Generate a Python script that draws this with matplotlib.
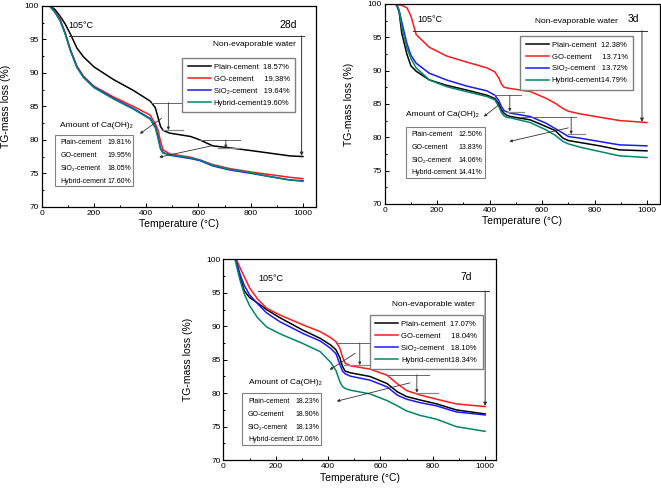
"""
TG curves of cement pastes (Plain / GO / SiO2 / Hybrid) at 28d, 3d and 7d.
"""

import matplotlib
matplotlib.use("Agg")
import matplotlib.pyplot as plt
from matplotlib.patches import Rectangle
from matplotlib.ticker import MultipleLocator

plt.rcParams["font.family"] = ["Liberation Sans", "DejaVu Sans"]

SERIES = ["Plain-cement", "GO-cement", "SiO₂-cement", "Hybrid-cement"]
COLORS = ["black", "#ff1a1a", "#1a1aff", "#00876a"]
# spaces to line up the numbers in the curve legend
LEG_PAD = ["  ", "     ", "   ", ""]

# ---- 28d ----
T28 = [30, 50, 70, 90, 110, 135, 160, 200, 275, 350, 415, 435, 445, 455, 465,
       490, 570, 605, 655, 720, 800, 875, 950, 1000]
plain28 = [100, 99.5, 98.5, 97.3, 95.8, 93.7, 92.4, 90.9, 89.0, 87.4, 85.8, 84.8,
           83.4, 82.0, 81.4, 81.0, 80.5, 80.0, 79.1, 78.8, 78.4, 78.0, 77.6, 77.5]
go28 = [100, 99.2, 98.1, 96.0, 93.5, 91.0, 89.5, 88.0, 86.4, 85.0, 83.7, 82.4,
        81.5, 79.8, 78.5, 77.9, 77.4, 77.0, 76.3, 75.7, 75.2, 74.8, 74.4, 74.2]
sio28 = [100, 99.1, 97.9, 95.9, 93.4, 90.9, 89.4, 87.9, 86.2, 84.7, 83.2, 82.0,
         80.6, 78.8, 78.1, 77.7, 77.2, 76.9, 76.1, 75.5, 75.0, 74.5, 74.0, 73.9]
hyb28 = [100, 99.1, 97.8, 95.8, 93.3, 90.8, 89.3, 87.8, 86.1, 84.6, 83.1, 81.8,
         80.3, 78.6, 78.0, 77.8, 77.3, 77.0, 76.2, 75.6, 75.1, 74.5, 74.0, 73.8]
water28 = [18.57, 19.38, 19.64, 19.60]
caoh28 = [19.81, 19.95, 18.05, 17.60]

# ---- 3d ----
T3 = [30, 45, 55, 65, 85, 100, 120, 170, 235, 310, 390, 420, 435, 445, 455, 465,
      480, 555, 615, 650, 680, 700, 745, 820, 895, 1000]
plain3 = [100, 99.9, 98.8, 95.6, 92.4, 90.7, 89.9, 88.6, 87.8, 87.1, 86.3, 85.8,
          85.0, 84.1, 83.6, 83.3, 83.1, 82.6, 81.6, 81.0, 79.85, 79.5, 79.2, 78.7,
          78.1, 77.95]
go3 = [100, 99.9, 99.85, 99.8, 99.4, 98.2, 95.4, 93.5, 92.2, 91.3, 90.4, 89.8,
       88.9, 88.0, 87.5, 87.4, 87.3, 86.85, 85.85, 85.1, 84.3, 83.9, 83.5, 83.0,
       82.5, 82.2]
sio3 = [100, 100, 99.0, 97.3, 94.0, 92.3, 91.1, 89.6, 88.6, 87.7, 86.95, 86.3,
        85.5, 84.6, 84.0, 83.8, 83.6, 83.1, 82.1, 81.3, 80.6, 80.1, 79.85, 79.35,
        78.85, 78.7]
hyb3 = [100, 100, 99.0, 96.6, 93.4, 91.8, 90.4, 88.6, 87.6, 86.85, 86.1, 85.6,
        84.6, 83.7, 83.2, 83.0, 82.9, 82.2, 81.1, 80.3, 79.35, 79.0, 78.5, 77.85,
        77.2, 76.95]
water3 = [12.38, 13.71, 13.72, 14.79]
caoh3 = [12.50, 13.83, 14.06, 14.41]

# ---- 7d ----
T7 = [45, 50, 65, 80, 100, 130, 165, 215, 305, 370, 410, 430, 445, 455, 465, 485,
      560, 625, 665, 700, 750, 815, 890, 1000]
plain7 = [100, 99.5, 97.1, 95.3, 94.3, 93.5, 92.5, 91.3, 89.4, 88.2, 87.2, 86.5,
          85.3, 84.0, 83.3, 83.05, 82.5, 81.45, 80.2, 79.5, 79.0, 78.4, 77.5, 76.9]
go7 = [100, 100, 98.6, 97.4, 95.75, 94.1, 92.7, 91.7, 90.2, 89.2, 88.3, 87.7,
       86.7, 85.4, 84.5, 84.1, 83.6, 82.7, 81.4, 80.4, 79.75, 79.1, 78.4, 78.0]
sio7 = [100, 99.6, 97.6, 96.1, 94.7, 93.4, 92.0, 90.7, 88.9, 87.8, 86.7, 85.9,
        84.3, 83.3, 82.9, 82.55, 81.95, 80.95, 79.7, 79.1, 78.6, 78.1, 77.2, 76.75]
hyb7 = [100, 99.0, 96.7, 94.8, 93.1, 91.3, 89.9, 88.9, 87.4, 86.2, 84.6, 83.4,
        81.7, 81.0, 80.7, 80.45, 79.9, 78.9, 78.1, 77.35, 76.7, 76.1, 75.0, 74.3]
water7 = [17.07, 18.04, 18.10, 18.34]
caoh7 = [18.23, 18.90, 18.13, 17.06]


def draw_panel(ax, temps, curves, water, caoh, age, lay, xmax):
    for y, name, col, pad, w in zip(curves, SERIES, COLORS, LEG_PAD, water):
        ax.plot(temps, y, color=col, lw=1.1, label=f"{name}{pad}{w:.2f}%")

    ax.set_xlim(0, xmax)
    ax.set_ylim(70, 100)
    ax.xaxis.set_major_locator(MultipleLocator(200))
    ax.xaxis.set_minor_locator(MultipleLocator(100))
    ax.yaxis.set_major_locator(MultipleLocator(5))
    ax.yaxis.set_minor_locator(MultipleLocator(2.5))
    ax.tick_params(which="both", direction="in", labelsize=6, pad=2, width=0.7)
    ax.tick_params(which="major", length=3)
    ax.tick_params(which="minor", length=1.5)
    for s in ax.spines.values():
        s.set_linewidth(0.9)
    ax.set_xlabel("Temperature (°C)", fontsize=7.5, labelpad=2)
    ax.set_ylabel("TG-mass loss (%)", fontsize=7.5, labelpad=10)

    # non-evaporable water bracket
    wy = lay["water_y"]
    ax.plot(lay["water_x"], [wy, wy], color="#333333", lw=0.7)
    ax.annotate("", xy=(lay["water_arrow"][0], lay["water_arrow"][1]),
                xytext=(lay["water_arrow"][0], wy),
                arrowprops=dict(arrowstyle="-|>", color="#333333", lw=0.7,
                                mutation_scale=5, shrinkA=0, shrinkB=0))
    ax.text(*lay["t105"], "105°C", fontsize=6.5, va="center")
    ax.text(*lay["tage"], age, fontsize=7.5, va="center")
    ax.text(*lay["twater"], "Non-evaporable water", fontsize=6, va="center")
    ax.text(*lay["tca"], "Amount of Ca(OH)₂", fontsize=6, va="center")

    # Ca(OH)2 decomposition brackets
    for up, lo, ax_x, diag in lay["brackets"]:
        ax.plot(up[:2], [up[2], up[2]], color="#666666", lw=0.7)
        ax.plot(lo[:2], [lo[2], lo[2]], color="#888888", lw=0.9)
        ax.annotate("", xy=(ax_x, lo[2]), xytext=(ax_x, up[2]),
                    arrowprops=dict(arrowstyle="-|>", color="#333333", lw=0.6,
                                    mutation_scale=4, shrinkA=0, shrinkB=0))
        ax.annotate("", xy=diag[2:], xytext=diag[:2],
                    arrowprops=dict(arrowstyle="-|>", color="#333333", lw=0.6,
                                    mutation_scale=4, shrinkA=0, shrinkB=0))

    # legend of curves
    l, r, t, b = lay["leg"]
    ax.legend(loc="upper right", bbox_to_anchor=(r, t), fontsize=5.5,
              fancybox=False, edgecolor="#808080", framealpha=1,
              handlelength=3.0, handletextpad=0.4, labelspacing=0.6,
              borderpad=0.7, borderaxespad=0)

    # Ca(OH)2 box
    l, r, t, b = lay["cabox"]
    ax.add_patch(Rectangle((l, b), r - l, t - b, transform=ax.transAxes,
                           facecolor="white", edgecolor="#808080", lw=0.8, zorder=3))
    n = len(caoh)
    for i, (name, v) in enumerate(zip(SERIES, caoh)):
        yy = t - (i + 0.6) * (t - b) / n
        ax.text(l + 0.022, yy, name, fontsize=5, va="center", ha="left",
                transform=ax.transAxes, zorder=4)
        ax.text(r - 0.008, yy, f"{v:.2f}%", fontsize=5, va="center", ha="right",
                transform=ax.transAxes, zorder=4)


LAY28 = dict(
    water_y=95.5, water_x=[105, 1005], water_arrow=(995, 77.6),
    t105=(102, 97.1), tage=(911, 97.2), twater=(656, 94.2), tca=(70, 82.2),
    brackets=[((420, 541, 85.55), (462, 541, 81.45), 485, (459, 83.2, 376, 80.9)),
              ((605, 760, 79.97), (675, 760, 78.75), 705, (650, 79.1, 450, 77.4))],
    leg=(0.547, 0.924, 0.74, 0.486), cabox=(0.048, 0.334, 0.358, 0.101),
)
LAY3 = dict(
    water_y=96.0, water_x=[108, 1000], water_arrow=(981, 82.3),
    t105=(123, 97.6), tage=(928, 97.8), twater=(572, 97.3), tca=(80, 83.35),
    brackets=[((417, 521, 86.3), (466, 530, 83.85), 477, (440, 85.0, 378, 83.1)),
              ((515, 730, 83.0), (700, 763, 80.45), 711, (700, 81.4, 475, 79.35))],
    leg=(0.514, 0.902, 0.84, 0.583), cabox=(0.076, 0.363, 0.386, 0.129),
)
LAY7 = dict(
    water_y=95.3, water_x=[134, 1013], water_arrow=(1000, 78.1),
    t105=(134, 97.2), tage=(905, 97.4), twater=(643, 93.3), tca=(96, 81.6),
    brackets=[((430, 556, 87.5), (462, 573, 84.2), 521, (503, 85.95, 406, 83.5)),
              ((620, 787, 82.75), (733, 818, 80.08), 739, (713, 81.55, 433, 78.8))],
    leg=(0.571, 0.952, 0.722, 0.465), cabox=(0.068, 0.36, 0.332, 0.075),
)

fig = plt.figure(figsize=(6.61, 4.90), dpi=100)
ax28 = fig.add_axes([0.063, 0.578, 0.415, 0.410])
ax3 = fig.add_axes([0.582, 0.584, 0.4166, 0.408])
ax7 = fig.add_axes([0.338, 0.061, 0.4118, 0.4096])

draw_panel(ax28, T28, [plain28, go28, sio28, hyb28], water28, caoh28, "28d", LAY28, 1050)
draw_panel(ax3, T3, [plain3, go3, sio3, hyb3], water3, caoh3, "3d", LAY3, 1050)
draw_panel(ax7, T7, [plain7, go7, sio7, hyb7], water7, caoh7, "7d", LAY7, 1040)

fig.savefig("out.png", dpi=100)
